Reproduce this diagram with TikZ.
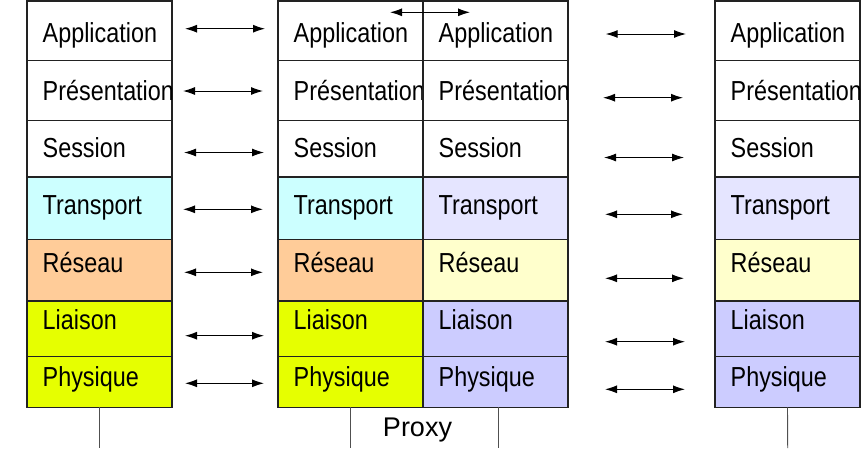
\documentclass[tikz,border=0pt]{standalone}
\usepackage{fontspec}
\setmainfont{Liberation Sans}
\usetikzlibrary{arrows.meta}

% layer fills: stack kind A (end host / proxy inside) and kind B (proxy outside / far host)
\colorlet{A-app}{white}
\colorlet{A-pre}{white}
\colorlet{A-ses}{white}
\definecolor{A-tra}{HTML}{CCFFFF}
\definecolor{A-res}{HTML}{FFCC99}
\definecolor{A-lia}{HTML}{E6FF00}
\definecolor{A-phy}{HTML}{E6FF00}
\colorlet{B-app}{white}
\colorlet{B-pre}{white}
\colorlet{B-ses}{white}
\definecolor{B-tra}{HTML}{E5E5FF}
\definecolor{B-res}{HTML}{FFFFCC}
\definecolor{B-lia}{HTML}{CCCCFF}
\definecolor{B-phy}{HTML}{CCCCFF}
\definecolor{edge}{HTML}{222222}
\definecolor{wire}{HTML}{505050}

\tikzset{
  cell/.style={draw=edge, line width=1.1pt, rectangle, inner sep=0pt, outer sep=0pt,
    minimum width=145pt, anchor=north west},
  lab/.style={inner sep=0pt, anchor=base west, text=black,
    font=\fontsize{27.5}{30}\selectfont},
  peer/.style={line width=1pt, {Latex[length=12pt,width=8pt]}-{Latex[length=12pt,width=8pt]}},
  drop/.style={draw=wire, line width=0.9pt}
}

\begin{document}
\begin{tikzpicture}[x=1pt,y=-1pt]
\useasboundingbox (0,0) rectangle (861,448);

% the four protocol stacks
\foreach \s/\x/\k in {1/27/A, 2/278/A, 3/423/B, 4/715/B}{
  \foreach \r/\top/\h/\txt/\base in {
      app/1/59.7/Application/42.7,
      pre/60.7/60/Présentation/100,
      ses/120.7/56.3/Session/157.3,
      tra/177/62.3/Transport/214.6,
      res/239.3/61.7/Réseau/272,
      lia/301/55.3/Liaison/329.3,
      phy/356.3/51/Physique/386.6}{
    \node[cell, fill=\k-\r, minimum height=\h pt] (s\s-\r) at (\x,\top) {};
    \node[lab] (s\s-\r-t) at (\x+15.5,\base) {\scalebox{0.85}[1]{\txt}};
  }
}

% shared wall of the proxy reaching the top edge
\coordinate (wall-top) at (423,0);
\draw[edge, line width=1.1pt] (s2-app.north east) -- (wall-top);

% peer-to-peer exchanges, left side
\foreach \r/\y/\xa/\xb in {app/28.7/185/265, pre/91/183/263, ses/152.5/184/264,
    tra/209.3/183/263, res/272.3/184/263, lia/335.7/185/264, phy/383.3/185/264}{
  \coordinate (L\r-a) at (\xa,\y);
  \coordinate (L\r-b) at (\xb,\y);
  \draw[peer] (L\r-a) -- (L\r-b);
}
% peer-to-peer exchanges, right side
\foreach \r/\y/\xa/\xb in {app/34/605.7/686, pre/97.7/603/683, ses/157.5/604/684,
    tra/214.3/605/683, res/278.3/605/684, lia/341.7/605/685, phy/389.3/605/685}{
  \coordinate (R\r-a) at (\xa,\y);
  \coordinate (R\r-b) at (\xb,\y);
  \draw[peer] (R\r-a) -- (R\r-b);
}
% exchange inside the proxy
\coordinate (P-a) at (390,12.3);
\coordinate (P-b) at (470,12.3);
\draw[peer] (P-a) -- (P-b);

% links to the medium
\coordinate (m1) at (99.5,448);
\coordinate (m2) at (350.7,448);
\coordinate (m3) at (498.5,448);
\coordinate (m4) at (787.7,448);
\draw[drop] (s1-phy.south) -- (m1);
\draw[drop] (s2-phy.south -| m2) -- (m2);
\draw[drop] (s3-phy.south -| m3) -- (m3);
\draw[drop] (s4-phy.south) -- (m4);

\node[inner sep=0pt, anchor=base, font=\fontsize{27}{30}\selectfont] (proxy) at (417.5,436.7) {Proxy};
\end{tikzpicture}
\end{document}
